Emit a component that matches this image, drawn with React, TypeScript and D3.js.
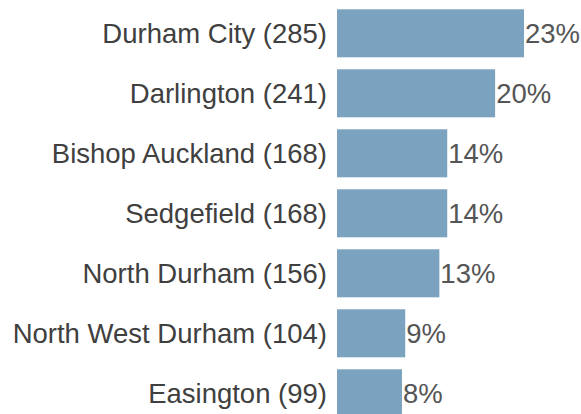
import React, { useEffect, useRef } from 'react';
import * as d3 from 'd3';

const areas = [
  'Durham City',
  'Darlington',
  'Bishop Auckland',
  'Sedgefield',
  'North Durham',
  'North West Durham',
  'Easington',
];
const counts = [285, 241, 168, 168, 156, 104, 99];
const pctLabels = ['23%', '20%', '14%', '14%', '13%', '9%', '8%'];

const App: React.FC = () => {
  const svgRef = useRef<SVGSVGElement | null>(null);

  useEffect(() => {
    if (!svgRef.current) return;
    const svg = d3.select(svgRef.current);
    svg.selectAll('*').remove();

    const width = 581;
    const height = 414;
    const barLeft = 337;

    const rows = areas.map((a, i) => ({ area: a, count: counts[i], pct: pctLabels[i] }));

    const x = d3.scaleLinear().domain([0, 285]).range([barLeft, 524]);
    const y = d3.scaleBand<string>()
      .domain(areas)
      .range([3.3, 423.3])
      .paddingInner(0.2)
      .paddingOuter(0.1);

    const g = svg.append('g');

    g.selectAll('rect')
      .data(rows)
      .join('rect')
      .attr('x', x(0))
      .attr('y', d => y(d.area) as number)
      .attr('width', d => x(d.count) - x(0))
      .attr('height', y.bandwidth())
      .attr('fill', '#7ba2bf');

    // category labels
    g.selectAll('text.cat')
      .data(rows)
      .join('text')
      .attr('class', 'cat')
      .attr('x', 327)
      .attr('y', d => (y(d.area) as number) + y.bandwidth() / 2)
      .attr('dy', '0.35em')
      .attr('text-anchor', 'end')
      .attr('font-family', "'Liberation Sans', Arial, sans-serif")
      .attr('font-size', 27.5)
      .attr('fill', '#404040')
      .text(d => `${d.area} (${d.count})`);

    // percent labels
    g.selectAll('text.pct')
      .data(rows)
      .join('text')
      .attr('class', 'pct')
      .attr('x', d => x(d.count) + 1)
      .attr('y', d => (y(d.area) as number) + y.bandwidth() / 2)
      .attr('dy', '0.35em')
      .attr('font-family', "'Liberation Sans', Arial, sans-serif")
      .attr('font-size', 27.5)
      .attr('fill', '#555555')
      .text(d => d.pct);

    svg.attr('viewBox', `0 0 ${width} ${height}`);
  }, []);

  return (
    <svg
      ref={svgRef}
      width={581}
      height={414}
      style={{ position: 'absolute', left: 0, top: 0, background: '#fff' }}
    />
  );
};

export default App;
